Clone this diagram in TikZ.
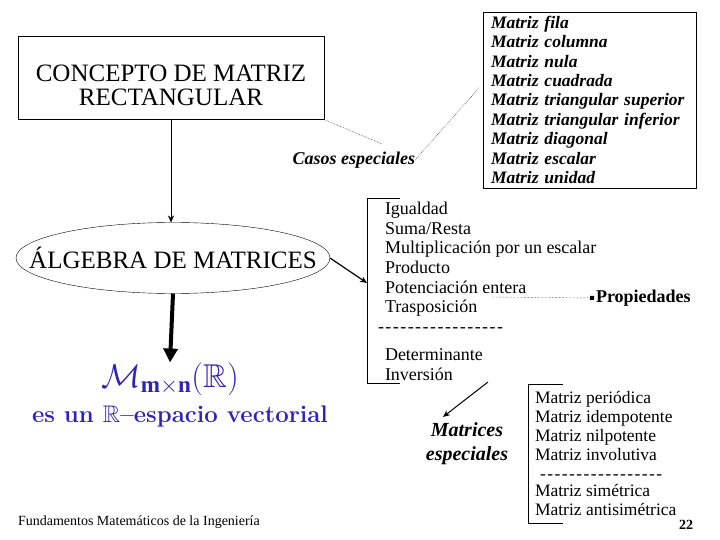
\RequirePackage{fix-cm}
\documentclass[tikz,border=0pt]{standalone}
\usepackage{amssymb}
\usepackage{fontspec}
\setmainfont{Liberation Serif}
\newfontfamily\lmfont{Latin Modern Roman}
\usetikzlibrary{positioning}
\usetikzlibrary{arrows.meta,shapes.geometric}
\definecolor{mblue}{RGB}{45,35,185}
\newcommand{\guiones}{\foreach \i in {1,...,17}{-\kern1.45pt}}

\begin{document}
\begin{tikzpicture}[x=1pt,y=-1pt,every node/.style={inner sep=0,outer sep=0},
	lista/.style={align=left,anchor=north west,font=\fontsize{18}{19.7}\selectfont},
	caso/.style={font=\fontsize{17.5}{19.4}\selectfont\bfseries\itshape},
	liga/.style={black!70,line width=0.6pt,densely dotted},
	>={Stealth[length=7pt,width=6pt]}]
	\useasboundingbox (0,0) rectangle (720,540);
	% bloque izquierdo
	\node (concepto) [draw,minimum width=306pt,minimum height=83pt,label={[align=center,font=\fontsize{25}{24}\selectfont,yshift=-7pt]center:CONCEPTO DE MATRIZ\\RECTANGULAR}] at (171,78) {};
	\node (algebra) [draw,ellipse,minimum width=314pt,minimum height=71pt,label={[font=\fontsize{25}{25}\selectfont]center:ÁLGEBRA DE MATRICES}] at (173,258) {};
	\node (M) [text=mblue,font=\fontsize{33}{33}\selectfont] at (170,379) {$\mathcal{M}_{\mathbf{m\times n}}(\mathbb{R})$};
	\node (espacio) [text=mblue,font=\fontsize{24}{24}\selectfont\lmfont\bfseries,below=10pt of M,xshift=10pt] {es un $\mathbb{R}$–espacio vectorial};
	\draw[->] (concepto.south) -- (concepto.south |- algebra.north);
	\draw[line width=4pt,-{Triangle[length=14pt,width=14pt]}] (algebra.south) -- (M.north);
	% casos especiales
	\node (casos) [font=\fontsize{18}{18}\selectfont\bfseries\itshape,anchor=east] at (415,160) {Casos especiales};
	\node (lista) [draw,anchor=north west,inner xsep=8pt,inner ysep=4pt,text width=197pt,align=left,caso] at (483,12) {Matriz fila\\Matriz columna\\Matriz nula\\Matriz cuadrada\\Matriz triangular superior\\Matriz triangular inferior\\Matriz diagonal\\Matriz escalar\\Matriz unidad};
	\draw[liga] (concepto.south east) -- ([xshift=28pt,yshift=8pt]casos.north);
	\draw[liga] (casos.east) -- ([xshift=-4pt,yshift=12pt]lista.west);
	% operaciones
	\node (operaciones) [lista] at (385,202) {Igualdad\\Suma/Resta\\Multiplicación por un escalar\\Producto\\Potenciación entera\\Trasposición\\\hspace*{-7pt}\guiones\\[8pt]Determinante\\Inversión};
	\draw (400,198) -- (367,198) -- (367,383) -- (400,383);
	\coordinate (llave) at (367,283);
	\draw[->,line width=1.2pt] (algebra.east) -- (llave);
	\node (propiedades) [font=\fontsize{18}{18}\selectfont\bfseries,anchor=west] at (596,298) {Propiedades};
	\coordinate (tras) at (492,297);
	\draw[densely dotted,-{Square[length=4pt,width=4pt]},shorten >=2pt] (tras) -- (propiedades.west);
	% matrices especiales
	\coordinate (inv) at (488,382);
	\node (especiales) [font=\fontsize{20}{24}\selectfont\bfseries\itshape,align=center] at (467,444) {Matrices\\especiales};
	\draw[->,line width=1pt] (inv) -- ([xshift=-24pt,yshift=6pt]especiales.north);
	\node (tipos) [lista,font=\fontsize{17.5}{19}\selectfont] at (535,391) {Matriz periódica\\Matriz idempotente\\Matriz nilpotente\\Matriz involutiva\\\hspace*{5pt}\guiones\\[-2pt]Matriz simétrica\\Matriz antisimétrica};
	\draw (563,384) -- (528,384) -- (528,523) -- (563,523);
	% pie
	\node (pie) [anchor=west,font=\fontsize{14}{14}\selectfont] at (18,522) {Fundamentos Matemáticos de la Ingeniería};
	\node (pagina) [font=\fontsize{14}{14}\selectfont\bfseries] at (686,525) {22};
\end{tikzpicture}
\end{document}
